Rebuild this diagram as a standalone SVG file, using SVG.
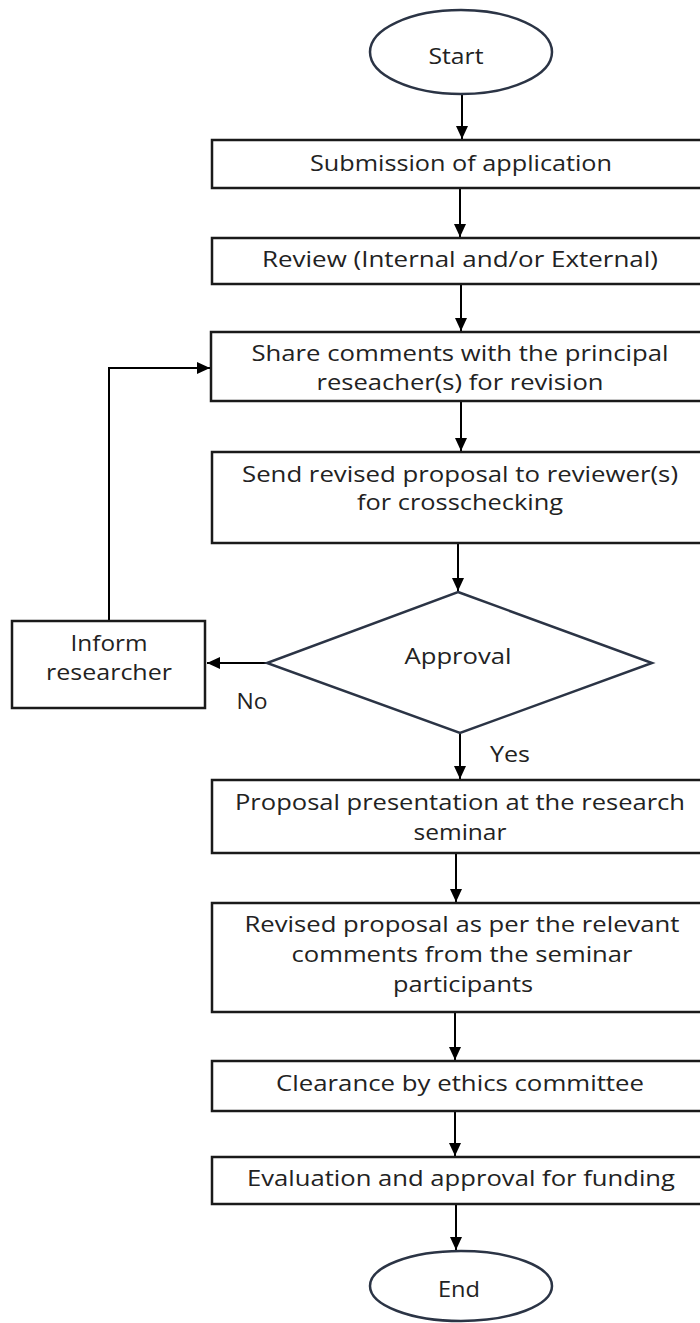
<svg xmlns="http://www.w3.org/2000/svg" width="700" height="1323" viewBox="0 0 700 1323">
<style>
.box{fill:#fff;stroke:#1a1a1a;stroke-width:2.5}
.term{fill:#fff;stroke:#2b3445;stroke-width:2.5}
.dia{fill:#fff;stroke:#2b3445;stroke-width:2.5}
.t{font-family:"Open Sans","DejaVu Sans",sans-serif;font-size:21px;fill:#222;text-anchor:middle}
.c{fill:none;stroke:#000;stroke-width:2}
</style>
<defs>
<marker id="ah" markerUnits="userSpaceOnUse" markerWidth="14" markerHeight="14" viewBox="0 0 14 14" refX="13" refY="7" orient="auto">
<path d="M0,1 L13,7 L0,13 Z" fill="#000"/>
</marker>
</defs>
<rect width="700" height="1323" fill="#fff"/>
<g id="connectors">
<line class="c" x1="462" y1="94" x2="462" y2="139" marker-end="url(#ah)"/>
<line class="c" x1="460" y1="189" x2="460" y2="237" marker-end="url(#ah)"/>
<line class="c" x1="461" y1="285" x2="461" y2="331" marker-end="url(#ah)"/>
<line class="c" x1="461" y1="402" x2="461" y2="451" marker-end="url(#ah)"/>
<line class="c" x1="458" y1="544" x2="458" y2="591" marker-end="url(#ah)"/>
<line class="c" x1="267" y1="663" x2="207" y2="663" marker-end="url(#ah)"/>
<path class="c" d="M109,621 V368 H210" stroke-width="2.5" marker-end="url(#ah)"/>
<line class="c" x1="460" y1="734" x2="460" y2="779" marker-end="url(#ah)"/>
<line class="c" x1="456" y1="854" x2="456" y2="902" marker-end="url(#ah)"/>
<line class="c" x1="455" y1="1013" x2="455" y2="1060" marker-end="url(#ah)"/>
<line class="c" x1="455" y1="1112" x2="455" y2="1156" marker-end="url(#ah)"/>
<line class="c" x1="456" y1="1205" x2="456" y2="1250" marker-end="url(#ah)"/>
</g>
<g id="start">
<ellipse class="term" cx="461" cy="52" rx="91" ry="42"/>
<text class="t" x="456" y="64" textLength="55" lengthAdjust="spacingAndGlyphs">Start</text>
</g>
<g id="submission">
<rect class="box" x="212" y="140" width="500" height="48"/>
<text class="t" x="461" y="171" textLength="302" lengthAdjust="spacingAndGlyphs">Submission of application</text>
</g>
<g id="review">
<rect class="box" x="212" y="238" width="500" height="46"/>
<text class="t" x="460" y="267" textLength="396" lengthAdjust="spacingAndGlyphs">Review (Internal and/or External)</text>
</g>
<g id="share">
<rect class="box" x="211" y="332" width="500" height="69"/>
<text class="t" x="460" y="361" textLength="417" lengthAdjust="spacingAndGlyphs">Share comments with the principal</text>
<text class="t" x="460" y="390" textLength="287" lengthAdjust="spacingAndGlyphs">reseacher(s) for revision</text>
</g>
<g id="send">
<rect class="box" x="212" y="452" width="500" height="91"/>
<text class="t" x="460" y="482" textLength="436" lengthAdjust="spacingAndGlyphs">Send revised proposal to reviewer(s)</text>
<text class="t" x="460" y="510" textLength="206" lengthAdjust="spacingAndGlyphs">for crosschecking</text>
</g>
<g id="approval">
<polygon class="dia" points="458,592 652,663 460,733 267,663"/>
<text class="t" x="458" y="664" textLength="107" lengthAdjust="spacingAndGlyphs">Approval</text>
</g>
<g id="inform">
<rect class="box" x="12" y="621" width="193" height="87"/>
<text class="t" x="109" y="651" textLength="77" lengthAdjust="spacingAndGlyphs">Inform</text>
<text class="t" x="109" y="680" textLength="126" lengthAdjust="spacingAndGlyphs">researcher</text>
</g>
<g id="labels">
<text class="t" x="252" y="709" textLength="31" lengthAdjust="spacingAndGlyphs">No</text>
<text class="t" x="510" y="762" textLength="40" lengthAdjust="spacingAndGlyphs">Yes</text>
</g>
<g id="presentation">
<rect class="box" x="212" y="780" width="500" height="73"/>
<text class="t" x="460" y="810" textLength="450" lengthAdjust="spacingAndGlyphs">Proposal presentation at the research</text>
<text class="t" x="460" y="840" textLength="93" lengthAdjust="spacingAndGlyphs">seminar</text>
</g>
<g id="revised">
<rect class="box" x="212" y="903" width="500" height="109"/>
<text class="t" x="462" y="932" textLength="435" lengthAdjust="spacingAndGlyphs">Revised proposal as per the relevant</text>
<text class="t" x="462" y="962" textLength="341" lengthAdjust="spacingAndGlyphs">comments from the seminar</text>
<text class="t" x="463" y="992" textLength="140" lengthAdjust="spacingAndGlyphs">participants</text>
</g>
<g id="clearance">
<rect class="box" x="212" y="1061" width="500" height="50"/>
<text class="t" x="460" y="1091" textLength="368" lengthAdjust="spacingAndGlyphs">Clearance by ethics committee</text>
</g>
<g id="evaluation">
<rect class="box" x="212" y="1157" width="500" height="47"/>
<text class="t" x="461" y="1186" textLength="428" lengthAdjust="spacingAndGlyphs">Evaluation and approval for funding</text>
</g>
<g id="end">
<ellipse class="term" cx="461" cy="1286" rx="91" ry="35"/>
<text class="t" x="459" y="1297" textLength="42" lengthAdjust="spacingAndGlyphs">End</text>
</g>
</svg>
